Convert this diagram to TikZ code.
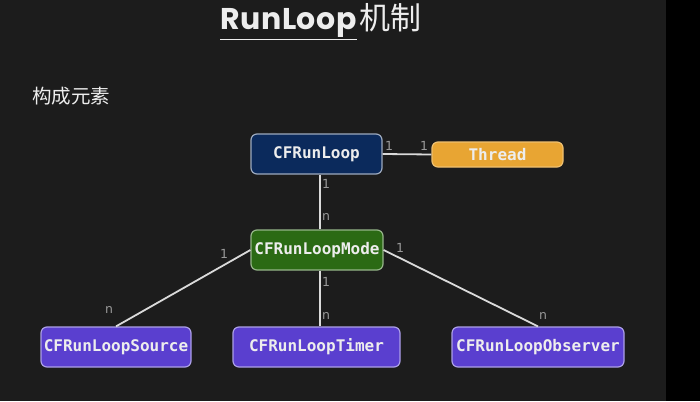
\documentclass[tikz,border=0pt]{standalone}
\usepackage{fontspec}
\setmainfont{DejaVu Sans}
\setmonofont{DejaVu Sans Mono}
\newfontfamily\cjk{Noto Sans CJK SC}
\newfontfamily\titlefont[LetterSpace=2]{Poppins}

\definecolor{slidebg}{HTML}{1C1C1C}
\definecolor{loopblue}{HTML}{0B2A5C}
\definecolor{threadorange}{HTML}{E8A533}
\definecolor{modegreen}{HTML}{2B6A14}
\definecolor{itempurple}{HTML}{5A3FCF}
\definecolor{linegray}{HTML}{DADADA}
\definecolor{textwhite}{HTML}{EDEDED}

\tikzset{
    box/.style={draw, line width=1.2pt, rounded corners=6pt, text=textwhite,
                font=\ttfamily\bfseries\fontsize{16}{19}\selectfont,
                minimum height=40pt, inner sep=0pt},
    link/.style={linegray, line width=1.8pt},
    mult/.style={text=gray!80, font=\fontsize{12.5}{14}\selectfont, inner sep=0pt}
}

\begin{document}
\begin{tikzpicture}[x=1pt, y=-1pt]
    \useasboundingbox (0,0) rectangle (700,401);

    % Slide background, black strip on the right
    \fill[slidebg] (0,0) rectangle (666,401);
    \fill[black] (666,0) rectangle (700,401);

    % Title
    \node[text=textwhite, font=\titlefont\bfseries\fontsize{30}{36}\selectfont, inner sep=0pt, anchor=base west] (titleword) at (220,30) {RunLoop};
    \node[text=textwhite, font=\cjk\fontsize{31}{36}\selectfont, inner sep=0pt, anchor=base west] (titlecjk) at ([xshift=2pt]titleword.base east) {机制};
    \draw[textwhite, line width=1.8pt] (titleword.south west |- 0,39.5) -- (titleword.south east |- 0,39.5);

    % Subtitle
    \node[text=textwhite, font=\cjk\fontsize{19.5}{23}\selectfont, inner sep=0pt, anchor=west] (parts) at (32,96) {构成元素};

    % Boxes
    \node[box, fill=loopblue, draw=loopblue!40!white, minimum width=131pt] (runloop) at (316.5,154) {CFRunLoop};
    \node[box, fill=threadorange, draw=threadorange!70!white, minimum width=131pt, minimum height=25pt] (thread) at (497.5,154.5) {Thread};
    \node[box, fill=modegreen, draw=modegreen!50!white, minimum width=132pt] (mode) at (317,250) {CFRunLoopMode};
    \node[box, fill=itempurple, draw=itempurple!50!white, minimum width=150pt] (source) at (116,347) {CFRunLoopSource};
    \node[box, fill=itempurple, draw=itempurple!50!white, minimum width=167pt] (timer) at (316.5,347) {CFRunLoopTimer};
    \node[box, fill=itempurple, draw=itempurple!50!white, minimum width=172pt] (observer) at (538,347) {CFRunLoopObserver};

    % Connectors
    \draw[link] (runloop.east) -- (thread.west);
    \draw[link] (runloop.south -| 320,0) -- (mode.north -| 320,0);
    \draw[link] (mode.west) -- (source.north);
    \draw[link] (mode.south -| 320,0) -- (timer.north -| 320,0);
    \draw[link] (mode.east) -- (observer.north);

    % Multiplicities
    \node[mult] (m1) at (389,146) {1};
    \node[mult] (m2) at (424,146) {1};
    \node[mult] (m3) at (326,184) {1};
    \node[mult] (m4) at (326,217) {n};
    \node[mult] (m5) at (224,254) {1};
    \node[mult] (m6) at (109,310) {n};
    \node[mult] (m7) at (326,282) {1};
    \node[mult] (m8) at (326,316) {n};
    \node[mult] (m9) at (400,248) {1};
    \node[mult] (m10) at (543,316) {n};
\end{tikzpicture}
\end{document}
